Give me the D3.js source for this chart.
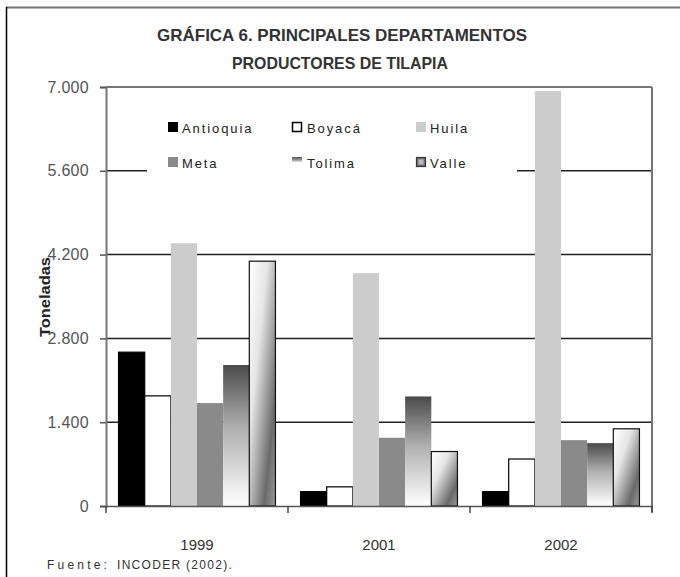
<!DOCTYPE html>
<html>
<head>
<meta charset="utf-8">
<script src="https://cdn.jsdelivr.net/npm/d3@7"></script>
<style>
  body { margin: 0; background: #fff; }
  svg { display: block; font-family: "Liberation Sans", Arial, sans-serif; }
  .narrow { font-family: "Liberation Sans Narrow", "Arial Narrow", "Liberation Sans", Arial, sans-serif; }
</style>
</head>
<body>
<script>
let w = 680;
let h = 577;

var years = ["1999", "2001", "2002"];
var departments = ["Antioquia", "Boyacá", "Huila", "Meta", "Tolima", "Valle"];
var antioquia = [2570, 240, 240];
var boyaca = [1840, 320, 785];
var huila = [4390, 3890, 6930];
var meta = [1720, 1140, 1100];
var tolima = [2355, 1830, 1050];
var valle = [4090, 910, 1290];
var yTicks = [0, 1400, 2800, 4200, 5600, 7000];

var seriesValues = [antioquia, boyaca, huila, meta, tolima, valle];

var plotLeft = 106, plotRight = 652, plotTop = 87, plotBottom = 506;

let svg = d3.select("body").append("svg").attr("width", w).attr("height", h);

// gradients
var defs = svg.append("defs");
var gT = defs.append("linearGradient").attr("id", "gradTolima")
    .attr("x1", 0).attr("y1", 0).attr("x2", 0).attr("y2", 1);
gT.append("stop").attr("offset", "0%").attr("stop-color", "#4a4a4a");
gT.append("stop").attr("offset", "45%").attr("stop-color", "#b0b0b0");
gT.append("stop").attr("offset", "100%").attr("stop-color", "#ffffff");

// legend swatch for Tolima fades out quickly
var gTL = defs.append("linearGradient").attr("id", "gradTolimaLeg")
    .attr("x1", 0).attr("y1", 0).attr("x2", 0).attr("y2", 1);
gTL.append("stop").attr("offset", "0%").attr("stop-color", "#555");
gTL.append("stop").attr("offset", "30%").attr("stop-color", "#999");
gTL.append("stop").attr("offset", "55%").attr("stop-color", "#fff");
gTL.append("stop").attr("offset", "100%").attr("stop-color", "#fff");

var gV = defs.append("linearGradient").attr("id", "gradValle")
    .attr("x1", 0).attr("y1", 0).attr("x2", 1).attr("y2", 1);
gV.append("stop").attr("offset", "0%").attr("stop-color", "#ffffff");
gV.append("stop").attr("offset", "35%").attr("stop-color", "#e6e6e6");
gV.append("stop").attr("offset", "78%").attr("stop-color", "#6a6a6a");
gV.append("stop").attr("offset", "100%").attr("stop-color", "#9a9a9a");

var fills = ["#000000", "#ffffff", "#cccccc", "#8a8a8a", "url(#gradTolima)", "url(#gradValle)"];
var legendFills = ["#000000", "#ffffff", "#cccccc", "#8a8a8a", "url(#gradTolimaLeg)", "#777"];
var strokes = ["#000", "#000", "none", "none", "none", "#111"];

// outer frame
svg.append("line").attr("x1", 6).attr("x2", w).attr("y1", 7.5).attr("y2", 7.5)
    .attr("stroke", "#777").attr("stroke-width", 2);
svg.append("line").attr("x1", 6.5).attr("x2", 6.5).attr("y1", 7).attr("y2", h)
    .attr("stroke", "#000").attr("stroke-width", 1.5);

// title
svg.append("text").attr("class", "narrow")
    .attr("x", 342).attr("y", 41)
    .attr("text-anchor", "middle")
    .attr("textLength", 370).attr("lengthAdjust", "spacingAndGlyphs")
    .style("font-size", "17px").style("font-weight", "bold").attr("fill", "#333")
    .text("GRÁFICA 6. PRINCIPALES DEPARTAMENTOS");
svg.append("text").attr("class", "narrow")
    .attr("x", 340).attr("y", 69)
    .attr("text-anchor", "middle")
    .attr("textLength", 216).attr("lengthAdjust", "spacingAndGlyphs")
    .style("font-size", "17px").style("font-weight", "bold").attr("fill", "#333")
    .text("PRODUCTORES DE TILAPIA");

// scales
let xScale = d3.scaleBand().domain(years).range([plotLeft, plotRight]).padding(0);
let xInner = d3.scaleBand().domain(departments).range([0, xScale.bandwidth()])
    .paddingInner(0).paddingOuter(0.48);
let yScale = d3.scaleLinear().domain([0, 7000]).range([plotBottom, plotTop]);

var locale = d3.formatLocale({ decimal: ",", thousands: ".", grouping: [3], currency: ["$", ""] });
var fmt = locale.format(",.0f");

// gridlines
svg.append("g")
    .selectAll("line")
    .data(yTicks.filter(function(d) { return d > 0 && d < 7000; }))
    .enter()
    .append("line")
    .attr("x1", plotLeft).attr("x2", plotRight)
    .attr("y1", function(d) { return yScale(d); })
    .attr("y2", function(d) { return yScale(d); })
    .attr("stroke", "#222").attr("stroke-width", 1.5);

// plot frame top & right
svg.append("line").attr("x1", plotLeft).attr("x2", plotRight).attr("y1", plotTop).attr("y2", plotTop)
    .attr("stroke", "#777").attr("stroke-width", 2);
svg.append("line").attr("x1", plotRight).attr("x2", plotRight).attr("y1", plotTop).attr("y2", plotBottom + 6)
    .attr("stroke", "#777").attr("stroke-width", 2);

// bars
var rows = [];
years.forEach(function(y, i) {
    departments.forEach(function(dep, j) {
        rows.push({ year: y, dep: dep, idx: j, value: seriesValues[j][i] });
    });
});

svg.append("g")
    .selectAll("rect")
    .data(rows)
    .enter()
    .append("rect")
    .attr("x", function(d) { return xScale(d.year) + xInner(d.dep); })
    .attr("y", function(d) { return yScale(d.value); })
    .attr("width", xInner.bandwidth())
    .attr("height", function(d) { return plotBottom - yScale(d.value); })
    .attr("fill", function(d) { return fills[d.idx]; })
    .attr("stroke", function(d) { return strokes[d.idx]; })
    .attr("stroke-width", 1.2);

// y axis
var yAxis = d3.axisLeft(yScale).tickValues(yTicks).tickFormat(fmt).tickSize(6).tickPadding(11);
var gy = svg.append("g")
    .attr("transform", "translate(" + plotLeft + ",0)")
    .call(yAxis);
gy.select(".domain").attr("stroke", "#777").attr("stroke-width", 2);
gy.selectAll(".tick line").attr("stroke", "#555").attr("stroke-width", 1.5);
gy.selectAll(".tick text").attr("fill", "#555").style("font-size", "16px")
    .style("letter-spacing", "0.3px")
    .style("font-family", "'Liberation Sans', Arial, sans-serif");

// x axis
var xAxis = d3.axisBottom(xScale).tickSize(0).tickPadding(33);
var gx = svg.append("g")
    .attr("transform", "translate(0," + plotBottom + ")")
    .call(xAxis);
gx.select(".domain").attr("stroke", "#555").attr("stroke-width", 1.5);
gx.selectAll(".tick text").attr("fill", "#333").style("font-size", "15px")
    .attr("class", "narrow");
svg.append("g")
    .selectAll("line")
    .data(years.concat(["end"]))
    .enter()
    .append("line")
    .attr("x1", function(d) { return d === "end" ? plotRight : xScale(d); })
    .attr("x2", function(d) { return d === "end" ? plotRight : xScale(d); })
    .attr("y1", plotBottom).attr("y2", plotBottom + 7)
    .attr("stroke", "#444").attr("stroke-width", 1.5);

// y axis title
svg.append("text")
    .attr("transform", "translate(50,297) rotate(-90)")
    .attr("text-anchor", "middle")
    .style("font-size", "14px")
    .style("font-weight", "bold")
    .attr("textLength", 80).attr("lengthAdjust", "spacingAndGlyphs")
    .attr("fill", "#222")
    .text("Toneladas");

// legend
svg.append("rect").attr("x", 147).attr("y", 110).attr("width", 370).attr("height", 72).attr("fill", "#fff");
var legendX = [168, 292, 416];
var legendY = [122, 157];
var leg = svg.append("g")
    .selectAll("g")
    .data(departments)
    .enter()
    .append("g")
    .attr("transform", function(d, i) {
        return "translate(" + legendX[i % 3] + "," + legendY[Math.floor(i / 3)] + ")";
    });
leg.append("rect")
    .attr("width", function(d, i) { return (i === 1 || i === 5) ? 9 : 10; })
    .attr("height", function(d, i) { return (i === 1 || i === 5) ? 9 : 10; })
    .attr("x", function(d, i) { return (i === 1 || i === 5) ? 0.5 : 0; })
    .attr("y", function(d, i) { return (i === 1 || i === 5) ? 0.5 : 0; })
    .attr("fill", function(d, i) { return legendFills[i]; })
    .attr("stroke", function(d, i) { return i === 1 ? "#000" : (i === 5 ? "#333" : "none"); })
    .attr("stroke-width", function(d, i) { return i === 5 ? 1.2 : 1.5; });
leg.filter(function(d, i) { return i === 5; })
    .append("rect")
    .attr("x", 2.5).attr("y", 2.5).attr("width", 5).attr("height", 5)
    .attr("fill", "#bbb");
leg.append("text")
    .attr("x", function(d, i) { return [14, 15, 14][i % 3]; })
    .attr("y", 11)
    .style("font-size", "13px")
    .style("letter-spacing", "1.9px")
    .attr("fill", "#222")
    .text(function(d) { return d; });

// source
var src = svg.append("text")
    .attr("x", 47).attr("y", 569)
    .style("font-size", "12px")
    .attr("fill", "#333");
src.append("tspan").style("letter-spacing", "3.2px").text("Fuente:");
src.append("tspan").attr("x", 117).style("letter-spacing", "1.3px").text("INCODER (2002).");
</script>
</body>
</html>
